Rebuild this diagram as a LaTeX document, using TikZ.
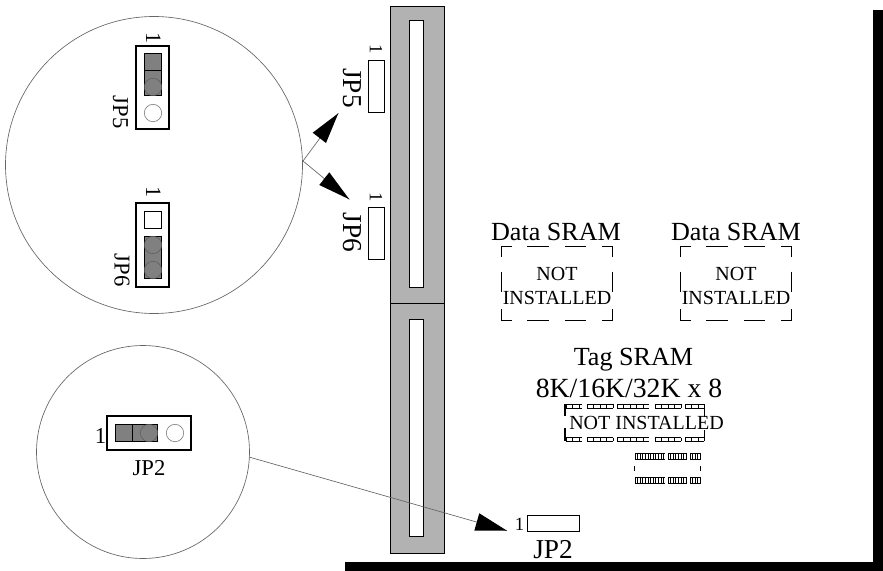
\documentclass[tikz,border=0pt]{standalone}
\usepackage{fontspec}
\setmainfont{Liberation Serif}
\newcommand{\SramBox}[1]{%
  \draw[sramdash,shift={(#1,0)}]
    (511.7,246) -- (501.7,246) -- (501.7,256.7)
    (527.3,246) -- (549,246)
    (565,246) -- (586,246)
    (602,246) -- (612.7,246) -- (612.7,256.7)
    (501.7,271.7) -- (501.7,292.3)
    (612.7,271.7) -- (612.7,292.3)
    (501.7,309) -- (501.7,320) -- (511.7,320)
    (527.3,320) -- (549,320)
    (565,320) -- (586,320)
    (602,320) -- (612.7,320) -- (612.7,309);}
% #1 style, #2 start, #3 second tick, #4 end, #5 top, #6 bottom of a row of pins
\newcommand{\PinRow}[6][pinrow]{%
  \draw[#1] (#2,#5) -- (#4,#5) (#2,#6) -- (#4,#6);
  \foreach \t in {#2,#3,...,#4} \draw[#1] (\t,#5) -- (\t,#6);}
\tikzset{
  slotcard/.style={draw=black,fill=black!30,line width=0.75pt},
  slothole/.style={draw=black,fill=white,line width=0.75pt},
  jumper/.style={draw=black,fill=white,line width=0.8pt},
  pinfill/.style={draw=black,fill=black!50,line width=0.8pt},
  pincirc/.style={draw=black!62,line width=0.5pt},
  pincircw/.style={draw=black!50,line width=0.5pt},
  zoomc/.style={draw=black!60,line width=0.5pt},
  leader/.style={draw=black!60,line width=0.5pt},
  blackhead/.style={fill=black,draw=none},
  boardjp/.style={draw=black,fill=white,line width=0.7pt,inner sep=0pt},
  sramdash/.style={draw=black,line width=0.7pt},
  lab/.style={inner sep=0pt,font=\fontsize{19.6pt}{21pt}\selectfont},
  labjp/.style={inner sep=0pt,font=\fontsize{20.5pt}{22pt}\selectfont},
  labd/.style={inner sep=0pt,font=\fontsize{17pt}{19pt}\selectfont},
  labm/.style={inner sep=0pt,font=\fontsize{15pt}{18pt}\selectfont,align=center},
  labone/.style={inner sep=0pt,font=\fontsize{14pt}{16pt}\selectfont},
  labdone/.style={inner sep=0pt,font=\fontsize{16.5pt}{18pt}\selectfont},
  pinrow/.style={draw=black,line width=0.7pt},
  pinrows/.style={draw=black,line width=0.55pt},
  chipedge/.style={draw=black,line width=1.1pt},
  chipedget/.style={draw=black,line width=0.6pt},
}
\begin{document}
\begin{tikzpicture}[x=0.75pt,y=-0.75pt]
\useasboundingbox (0,0) rectangle (883,571);
\fill[white] (0,0) rectangle (883,571);
% board outline
\fill[black] (345,562) rectangle (883,571);
\fill[black] (873,10) rectangle (883,571);
% slots
\draw[slotcard] (390.5,6.5) rectangle (444.5,303);
\draw[slotcard] (390.5,303) rectangle (444.5,553);
\draw[slothole] (409.5,20.5) rectangle (423.5,287.5);
\draw[slothole] (409.5,319.5) rectangle (423.5,536.5);
% zoom circles
\node[zoomc,circle,minimum size=297*0.75pt,inner sep=0pt] (c1) at (154,165) {};
\node[zoomc,circle,minimum size=213*0.75pt,inner sep=0pt] (c2) at (143,452) {};
% JP5 detail
\node[jumper,minimum width=33*0.75pt,minimum height=83*0.75pt,inner sep=0pt] (d5) at (152.5,87.5) {};
\draw[pinfill] (144.5,53.5) rectangle (161.5,95.5);
\draw[draw=black,line width=0.8pt] (144.5,70.5) -- (161.5,70.5);
\draw[pincirc] (153,87) circle (8.7);
\draw[pincircw] (153,113) circle (8.7);
\node[labdone,rotate=-90] (d5one) at (153.5,38) {1};
\node[labd,rotate=-90] (d5lab) at (120.5,112) {JP5};
% JP6 detail
\node[jumper,minimum width=33*0.75pt,minimum height=84*0.75pt,inner sep=0pt] (d6) at (152.5,245) {};
\draw[jumper] (144.5,211.5) rectangle (161.5,228.5);
\draw[pinfill] (144.5,236.5) rectangle (161.5,278.5);
\draw[pincirc] (153,245) circle (8.7);
\draw[pincirc] (153,270) circle (8.7);
\node[labdone,rotate=-90] (d6one) at (153.5,192) {1};
\node[labd,rotate=-90] (d6lab) at (122,270) {JP6};
% JP2 detail
\node[jumper,minimum width=84*0.75pt,minimum height=34*0.75pt,inner sep=0pt] (d2) at (149,433) {};
\draw[pinfill] (115.5,424.5) rectangle (157.5,441.5);
\draw[draw=black,line width=0.8pt] (132.5,424.5) -- (132.5,441.5);
\draw[pincirc] (149,433) circle (8.7);
\draw[pincircw] (175,433) circle (8.7);
\node[labd] (d2one) at (100.5,436.5) {1};
\node[labd] (d2lab) at (149,468.5) {JP2};
% board jumpers
\node[boardjp,minimum width=16*0.75pt,minimum height=52*0.75pt] (b5) at (376.3,86.5) {};
\node[boardjp,minimum width=16*0.75pt,minimum height=52*0.75pt] (b6) at (376.3,233) {};
\node[boardjp,minimum width=52*0.75pt,minimum height=16*0.75pt] (b2) at (553.3,523.3) {};
\node[labone,rotate=-90] (b5one) at (376,49) {1};
\node[labone,rotate=-90] (b6one) at (376,197) {1};
\node[labone] (b2one) at (519.5,524.5) {1};
\node[labjp,rotate=-90] (b5lab) at (352.5,88) {JP5};
\node[labjp,rotate=-90] (b6lab) at (352.5,232.5) {JP6};
\node[labjp] (b2lab) at (553,550) {JP2};
% leaders
\coordinate (h) at (303,161);
\coordinate (t5) at (338.3,113.3);
\coordinate (t6) at (349.3,199.3);
\coordinate (s2) at (249,457);
\coordinate (t2) at (507,530.7);
\draw[leader] (h) -- (t5);
\draw[leader] (h) -- (t6);
\draw[leader] (s2) -- (t2);
\fill[blackhead] (t5) -- (326,143) -- (312.7,132.7) -- cycle;
\fill[blackhead] (t6) -- (319.3,185) -- (329.3,172.3) -- cycle;
\fill[blackhead] (t2) -- (479.3,513.3) -- (474.3,530.7) -- cycle;
% SRAM
\node[lab] (ds1) at (556,232) {Data SRAM};
\node[lab] (ds2) at (736,232) {Data SRAM};
\SramBox{0}
\SramBox{179}
\node[labm] (n1) at (557,285.5) {NOT\\INSTALLED};
\node[labm] (n2) at (736,285.5) {NOT\\INSTALLED};
\node[lab] (tag1) at (633.5,360) {Tag SRAM};
\node[lab,font=\fontsize{20.8pt}{22pt}\selectfont] (tag2) at (629,388) {8K/16K/32K x 8};
% Tag chip
\PinRow{566}{572.5}{582}{404}{408}
\PinRow{587}{593.5}{613}{404}{408}
\PinRow{617}{623.5}{649}{404}{408}
\PinRow{655}{661.5}{681}{404}{408}
\PinRow{685}{691.5}{704}{404}{408}
\PinRow{566}{572.5}{582}{437.5}{441}
\PinRow{587}{593.5}{613}{437.5}{441}
\PinRow{617}{623.5}{649}{437.5}{441}
\PinRow{655}{661.5}{681}{437.5}{441}
\PinRow{685}{691.5}{704}{437.5}{441}
\draw[chipedge] (565,404) -- (565,416);
\draw[chipedge] (565,428) -- (565,441);
\draw[chipedget] (704,404) -- (704,417);
\draw[chipedget] (704,430) -- (704,441);
\node[labm] (n3) at (646.5,423) {NOT INSTALLED};
% small chip
\PinRow[pinrows]{635}{637.6}{665}{453}{459}
\PinRow[pinrows]{668}{670.6}{686.5}{453}{459}
\PinRow[pinrows]{690}{692.6}{700.5}{453}{459}
\PinRow[pinrows]{635}{637.6}{665}{477.5}{483.5}
\PinRow[pinrows]{668}{670.6}{686.5}{477.5}{483.5}
\PinRow[pinrows]{690}{692.6}{700.5}{477.5}{483.5}
\draw[chipedget] (634.7,466) -- (634.7,471);
\draw[chipedget] (700.7,466) -- (700.7,471);
\end{tikzpicture}
\end{document}
